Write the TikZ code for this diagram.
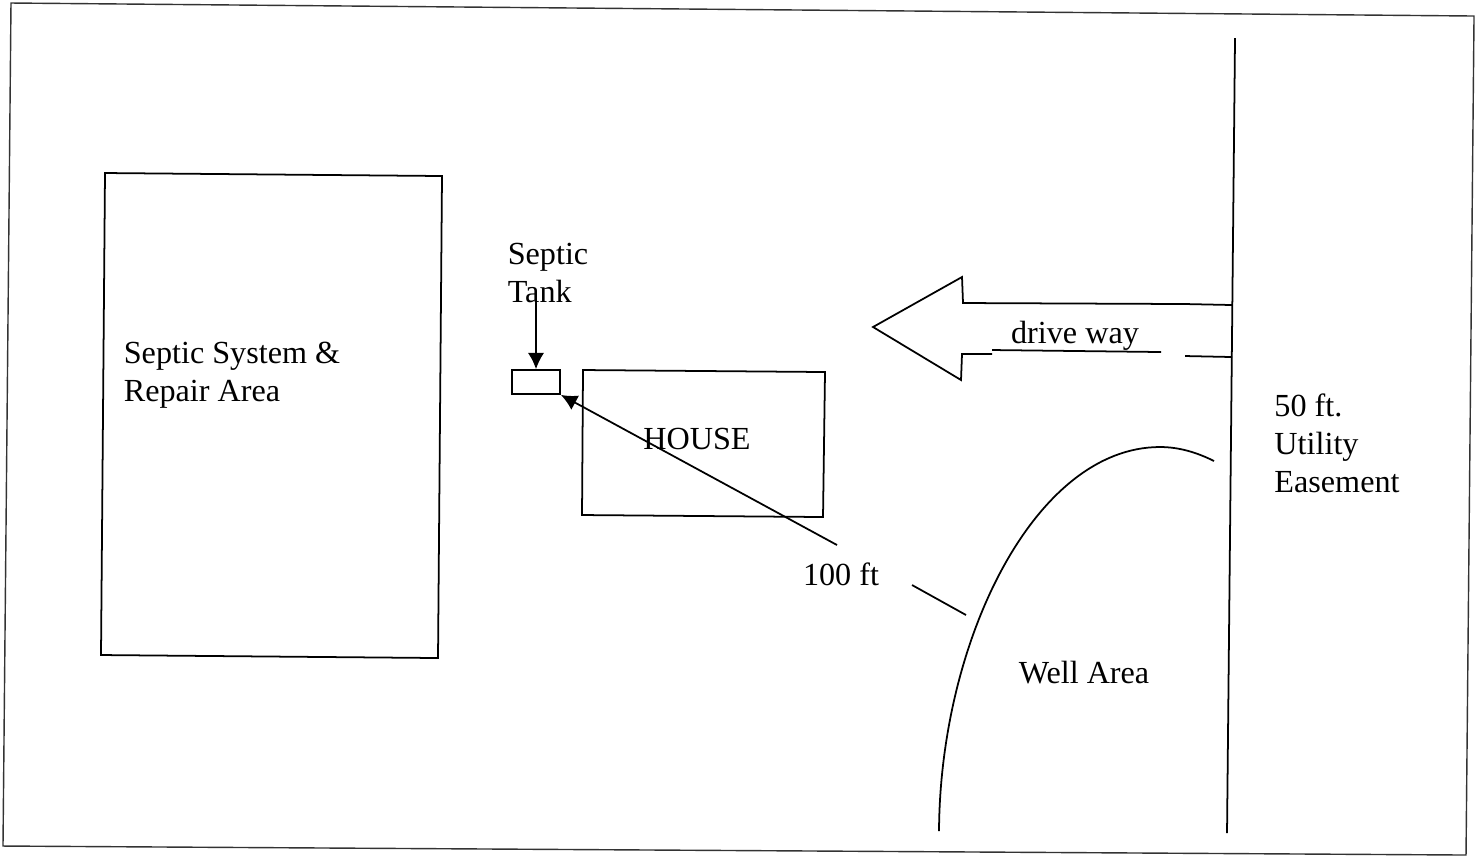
\documentclass[tikz,border=0pt]{standalone}
\usepackage{fontspec}
\setmainfont{Liberation Serif}
\usetikzlibrary{arrows.meta}
\tikzset{
  lbl/.style={font=\fontsize{9.15}{10.8}\selectfont,inner sep=0pt,align=left},
  tipd/.style={-{Latex[length=4.6pt,width=4.6pt]}},
  plan/.style={line width=0.5pt}
}
\begin{document}
\begin{tikzpicture}[x=0.01cm,y=-0.01cm,plan]
\useasboundingbox (0,0) rectangle (1480,859);
% page frame
\draw[line width=0.4pt,black!80] (11,3)--(1474,16)--(1466,855)--(3,846)--cycle;
% areas
\draw (105,173)--(442,176)--(438,658)--(101,655)--cycle;
\draw (583,370)--(825,372)--(823,517)--(582,515)--cycle;
\node[draw,minimum width=0.48cm,minimum height=0.24cm,inner sep=0pt] (tank) at (536,382) {};
\node[lbl] (system) at (232,375) {Septic System \&\\Repair Area};
\node[lbl] (tanklbl) at (548,273) {Septic\\Tank};
\node[lbl] (house) at (697,439) {HOUSE};
\node[lbl] (drive) at (1075,336) {drive way};
\node[lbl] (dist) at (841,574) {100 ft};
\node[lbl] (well) at (1084,673) {Well Area};
\node[lbl] (ease) at (1337,443) {50 ft.\\Utility\\Easement};
% easement line
\coordinate (roadT) at (1235,38); \coordinate (roadB) at (1227,833);
\draw (roadT)--(roadB);
% driveway arrow
\draw (1232,305)--(1185,304)--(963,303)--(962,277)--(873,327)--(961,380)--(962,354)--(992,354);
\draw (992,350)--(1161,352);
\draw (1185,356)--(1232,357);
% well area
\draw (939,831) .. controls (940,640) and (1035,447) .. (1160,447) .. controls (1180,447) and (1198,453) .. (1214,461);
% arrows
\coordinate (tankarrow) at (536,300);
\draw[tipd] (tankarrow)--(tank.north);
\coordinate (distS) at (837,545);
\draw[tipd] (distS)--(tank.south east);
\coordinate (distA) at (912,585); \coordinate (distB) at (966,615);
\draw (distA)--(distB);
\end{tikzpicture}
\end{document}
